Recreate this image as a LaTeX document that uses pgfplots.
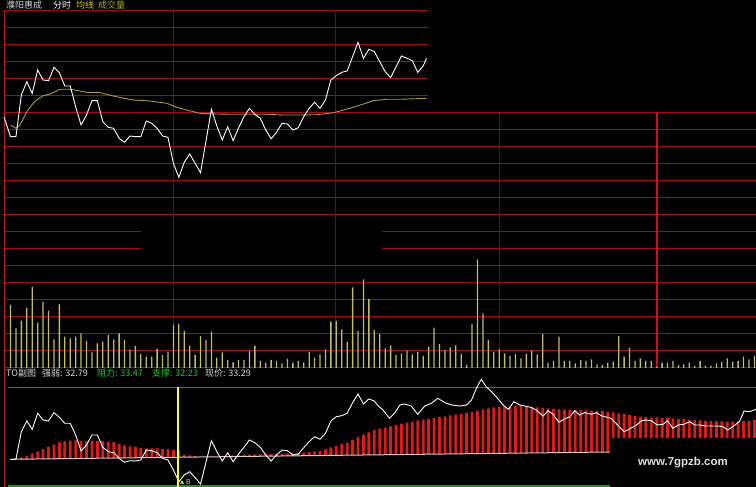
\documentclass[border=0pt]{standalone}
\usepackage{pgfplots}
\pgfplotsset{compat=1.18}
\usepackage{pgfplotstable}
\usepackage{fontspec}
\newfontfamily\cjk{Noto Sans CJK SC}
\newfontfamily\wm{Liberation Sans}
\definecolor{gridred}{RGB}{160,12,30}
\definecolor{gridvert}{RGB}{110,10,20}
\definecolor{gridbright}{RGB}{190,25,35}
\definecolor{avgcol}{RGB}{170,155,55}
\definecolor{volcol}{RGB}{195,188,110}
\definecolor{barred}{RGB}{225,25,25}
\definecolor{grn}{RGB}{30,150,30}
\definecolor{grntxt}{RGB}{40,200,40}
\definecolor{txt}{RGB}{215,215,215}
\definecolor{ylw}{RGB}{255,255,60}
\definecolor{ttlylw}{RGB}{225,205,0}
\definecolor{ttlolive}{RGB}{175,165,30}
\definecolor{basecol}{RGB}{225,200,200}
\definecolor{wmcol}{RGB}{225,225,225}
\definecolor{blbl}{RGB}{200,225,110}

% volume (height above panel baseline)
\pgfplotstableread{
x y
0 63
1 39.7
2 47.3
3 60.3
4 81.3
5 45.3
6 66.3
7 57.3
8 28.7
9 63.7
10 31.3
11 29.7
12 31.3
13 34.7
14 27
15 15.7
16 24.7
17 26.3
18 33
19 28.7
20 34.7
21 28
22 18.7
23 22
24 14
25 11.3
26 11.3
27 19
28 13
29 16.3
30 43
31 44
32 37
33 22.3
34 13
35 32
36 28
37 36.3
38 10.3
39 15.7
40 8
41 5.7
42 8
43 8
44 17.3
45 22.3
46 7
47 5.3
48 8
49 7
50 4.7
51 9
52 5.3
53 7
54 5.7
55 16.3
56 10.3
57 13.7
58 18.7
59 46.3
60 47
61 38.7
62 26.3
63 80.7
64 37
65 88.7
66 69
67 38
68 34
69 19.7
70 22.7
71 13
72 14.7
73 17.3
74 13.7
75 16
76 12
77 21.3
78 40.3
79 24
80 18
81 20.7
82 22.7
83 14
84 3
85 44
86 108.7
87 54.7
88 28
89 16.3
90 18.7
91 14.7
92 12
93 14
94 9.7
95 14
96 17.3
97 13.7
98 34
99 5.3
100 7
101 31.3
102 7
103 7
104 4.7
105 8
106 7
107 8.7
108 3.7
109 3
110 5.3
111 6.3
112 32
113 11.3
114 20.3
115 7
116 9.7
117 7
118 7
119 1.3
120 5.3
121 5.3
122 7
123 3
124 3.7
125 5.3
126 2.3
127 7
128 2.3
129 2.3
130 4.7
131 6.3
132 9.7
133 6.3
134 7
135 11.3
136 8.7
137 12
}\voltab

% red bars of the lower panel (top of each bar)
\pgfplotstableread{
x y
1 28.5
2 29.6
3 31
4 33.5
5 35.7
6 38
7 40.2
8 42.5
9 44.5
10 45.5
11 46.3
12 46.7
13 45.8
14 45.5
15 46
16 46
17 46
18 45.3
19 45
20 42.8
21 41.5
22 40.7
23 40
24 39.2
25 38.7
26 38.7
27 38.7
28 38.2
29 37.8
30 37.2
31 36.5
32 32
33 31.5
34 31
41 31.5
42 31.8
43 32
44 32.3
45 32.5
46 32.5
47 32.8
48 33
49 33
50 33.2
51 33.4
52 33.6
53 34
54 34.4
55 34.9
56 35.6
57 36.2
58 37.7
59 39.7
60 41.2
61 42.8
62 44.4
63 47
64 50
65 52.4
66 54.7
67 57.2
68 58.3
69 59.3
70 60.7
71 61.8
72 63
73 64.1
74 65.4
75 66.4
76 67.3
77 68.2
78 69.1
79 69.9
80 70.7
81 71.5
82 72.3
83 73.1
84 74.1
85 75
86 76.4
87 77.5
88 78.6
89 79.5
90 80
91 80.2
92 80.6
93 80.9
94 80.8
95 80.4
96 80
97 79.7
98 79.2
99 78.7
100 78.2
101 77.7
102 77.4
103 77
104 77
105 77
106 76.6
107 76.3
108 76.1
109 76
110 75.3
111 74.6
112 73.7
113 72.8
114 71.9
115 71
116 70.3
117 70
118 69.7
119 69.5
120 69.2
121 68.9
122 68.6
123 68.2
124 67.8
125 67.3
126 66.9
127 66.5
128 66.2
129 66
130 65.8
131 65.5
132 65.3
133 65.3
134 65.3
135 65.8
136 66.2
137 67
}\redtab

\pgfplotsset{panel/.style={scale only axis, width=756pt, xmin=-1.934, xmax=137.29, hide axis, anchor=south west}}

\begin{document}
\begin{tikzpicture}
\fill[black] (0,0) rectangle (756pt,487pt);
\path[use as bounding box] (0,0) rectangle (756pt,487pt);

% ---------- upper panel: price, average, volume ----------
\begin{axis}[panel, at={(0pt,119pt)}, height=368pt, ymin=0, ymax=368]
  \pgfplotsinvokeforeach{357,340,323,306,289,272}{
    \draw[gridred, line width=1pt] (axis cs:-1.105,#1) -- (axis cs:76.9,#1);}
  \pgfplotsinvokeforeach{255,238,221,204,187,170,153,102,85,68,51,34,17,0.6}{
    \draw[gridred, line width=1pt] (axis cs:-1.105,#1) -- (axis cs:137.3,#1);}
  \pgfplotsinvokeforeach{136,119}{
    \draw[gridred, line width=1pt] (axis cs:-1.105,#1) -- (axis cs:24.0,#1);
    \draw[gridred, line width=1pt] (axis cs:68.4,#1) -- (axis cs:137.3,#1);}
  \draw[gridvert, line width=1pt] (axis cs:29.93,357) -- (axis cs:29.93,0);
  \draw[gridvert, line width=1pt] (axis cs:59.76,357) -- (axis cs:59.76,0);
  \draw[gridvert, line width=0.8pt] (axis cs:89.96,255) -- (axis cs:89.96,0);
  \draw[gridbright, line width=1.4pt] (axis cs:119.06,255) -- (axis cs:119.06,0);
  \draw[gridbright, line width=1.2pt] (axis cs:-1.105,358) -- (axis cs:-1.105,0);

  \addplot[ybar, bar width=1.3pt, bar shift=0pt, fill=volcol, draw=none] table[x=x,y=y] {\voltab};

  \addplot[avgcol, line width=0.9pt] coordinates {
    (0,243)(1,239.7)(1.75,243)(3,256.3)(3.9,263)(4.8,268)(6,272.3)(7.3,274)(8.2,276.3)
    (9.1,278.7)(11,278.7)(12.8,277)(14,275.7)(16.5,275.3)(19.5,271.3)(22.6,268)(25.7,267)
    (28.8,264.7)(30.6,260.7)(32.4,258)(34.9,254.7)(38,254)(41,253.7)(47.2,253.7)(50.2,253)
    (53.3,253)(56.4,253.3)(59.5,255.3)(62.5,259.7)(65,264)(66.8,267.3)(69.3,268.7)
    (71.7,268.7)(74.8,269.3)(76.6,269.7)};

  \addplot[white, line width=0.9pt] coordinates {
    (-1.2,251.3)(0,231.3)(1,231.3)(2,273)(3,286.3)(4,274.7)(5,298)(6,288)(7,287.3)(8,300.7)
    (9,295.3)(10,282)(11,282)(12,261.3)(13,243)(14,253)(15,267.3)(16,267.3)(17,246.3)
    (18,240.7)(19,239.7)(20,229.7)(21,225.7)(22,232)(23,231.3)(24,231.3)(25,247)(26,244.7)
    (27,239.7)(28,232)(29,230.7)(30,204.7)(31,190.7)(32,205.7)(33,214)(34,204.7)(35,195.3)
    (37,258.7)(38,242)(39,228)(40,241.3)(41,227.3)(42,240.3)(43,251.3)(44,259.7)(45,253.7)
    (46,249.7)(47,238)(48,229.3)(49,235.7)(50,244.7)(51,244)(52,238)(53,240.3)(54,251.3)
    (55,259.7)(56,265.7)(57,259.7)(58,268)(59,288)(60,292.3)(61,295.7)(62,297)(63,311.3)
    (64,325.7)(65,309.7)(66,318.7)(67,316.3)(68,306.3)(69,296.3)(70,290.3)(71,301.3)
    (72,312)(73,309.7)(74,307.3)(75,295.7)(76,302)(76.6,309.7)};
\end{axis}

% ---------- lower panel: TO indicator ----------
\begin{axis}[panel, at={(0pt,0pt)}, height=119pt, ymin=0, ymax=119]
  \addplot[ybar, bar width=2.8pt, bar shift=0pt, fill=barred, draw=none] table[x=x,y=y] {\redtab};
  \addplot[fill=black, draw=none] coordinates {(-1.5,27.6)(110.4,35)} \closedcycle;
  \addplot[fill=black, draw=none] coordinates {(110.4,49)(137.5,49)} \closedcycle;
  \draw[basecol, line width=1pt] (axis cs:-0.1,27.7) -- (axis cs:110.4,35);
  \draw[grn, line width=1.2pt] (axis cs:-0.46,99.7) -- (axis cs:137.3,99.7);
  \draw[grn, line width=1.4pt] (axis cs:-0.46,1) -- (axis cs:110.4,1);
  \draw[gridbright, line width=1.2pt] (axis cs:-1.105,119) -- (axis cs:-1.105,0);

  \addplot[white, line width=0.9pt] coordinates {
    (0,27.7)(1,27.7)(2,55.3)(3,66)(4,57.7)(5,73.7)(6,67)(7,66)(8,74.3)(9,69.7)(10,63.7)
    (11,63.7)(12,52)(13,36)(14,42)(15,52)(16,52)(17,39.7)(18,35.3)(19,34.3)(20,28.7)
    (21,24.7)(22,26.3)(23,26)(24,27)(25,37)(26,36.3)(27,34.3)(28,28.7)(29,27)(30,17)
    (31,5.3)(32,12)(33,15.3)(34,9.3)(35,3)(37,46.3)(38,35.3)(39,26)(40,34.3)(41,25.3)
    (42,33)(43,39.7)(44,47)(45,44.3)(46,39.7)(47,32)(48,26)(49,32)(50,37)(51,36.3)(52,32)
    (53,33)(54,39.3)(55,45.3)(56,50.3)(57,47.7)(58,53.7)(59,66)(60,70.3)(61,71.3)(62,73.7)
    (63,84.3)(64,93)(65,83)(66,88)(67,86)(67.7,81.3)(68.6,77)(69.8,68.7)(70.8,74.3)
    (71.7,82)(72.6,83)(73.8,81)(75,72.7)(76.3,81)(77.5,83.7)(78.7,88.7)(80,84.3)(81.2,82)
    (82.7,81)(84,82)(84.9,87)(85.8,98.7)(86.7,107.7)(87.6,100.3)(88.6,95.3)(89.7,88.7)
    (90.7,82)(91.7,77.7)(92.7,85.3)(93.8,82)(94.7,81)(95.8,79.7)(96.8,77)(98.1,71)(99,76.3)
    (99.9,72.7)(101,64.7)(101.9,67.7)(103,70.3)(103.9,76.3)(104.8,72)(105.7,74.3)(107,72.7)
    (107.9,74.3)(108.9,71)(109.9,69.7)(110.6,68.7)(111.8,62)(113,55.3)(114,58)(115.3,62)
    (116.2,66.3)(117.1,67)(118,66.3)(119.1,62)(120.2,62.7)(121,66.3)(122,58.7)(123,62)
    (124,62.7)(125.1,65.3)(126,62)(126.9,62)(128.1,61)(129.1,61)(130.2,61)(131.2,60.3)
    (132.1,57)(133.2,61)(134.3,66)(135.1,76)(136.1,75.3)(137.3,77.7)};

  \draw[ylw, line width=2.4pt] (axis cs:30.85,99.7) -- (axis cs:30.85,0);
  \addplot[only marks, mark=triangle*, mark size=1.8pt, color=blbl] coordinates {(31.6,4.5)};
  \node[anchor=west, inner sep=0pt, text=blbl, font=\wm\fontsize{7}{8}\selectfont] at (axis cs:32.3,4.5) {B};
\end{axis}

% ---------- texts ----------
\tikzset{lbl/.style={anchor=west, inner sep=0pt, font=\cjk\fontsize{9}{10}\selectfont}}
\node[lbl, text=txt] at (6pt,481.5pt) {濮阳惠成};
\node[lbl, text=white] at (53pt,481.5pt) {分时};
\node[lbl, text=ttlylw] at (76pt,481.5pt) {均线};
\node[lbl, text=ttlolive] at (98pt,481.5pt) {成交量};

\node[lbl, text=txt] at (6pt,114pt) {TO副图};
\node[lbl, text=txt] at (42pt,114pt) {强弱: 32.79};
\node[lbl, text=grntxt] at (97pt,114pt) {阻力: 33.47};
\node[lbl, text=grntxt] at (152pt,114pt) {支撑: 32.23};
\node[lbl, text=txt] at (205pt,114pt) {现价: 33.29};

\node[inner sep=0pt, text=wmcol, font=\wm\bfseries\fontsize{11.5}{13}\selectfont] at (683pt,24pt) {www.7gpzb.com};
\end{tikzpicture}
\end{document}
